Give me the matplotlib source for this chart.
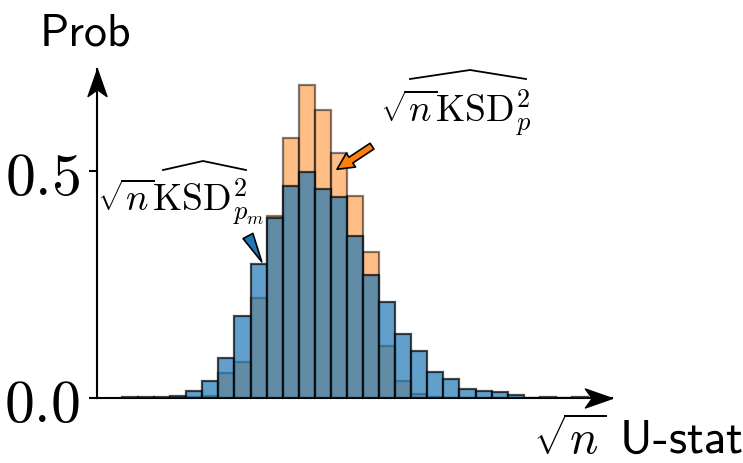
import numpy as np
import matplotlib
matplotlib.use("Agg")
from matplotlib import pyplot as plt
from matplotlib.lines import Line2D

plt.rcParams['mathtext.fontset'] = 'cm'

# histogram heights (density), bins of equal width
bin_width = 0.243
bin_left = np.arange(29) * bin_width
prob_p = [0, 0, 0, 0, 0.003, 0.004, 0.055, 0.079, 0.22, 0.402, 0.573, 0.689, 0.634, 0.540,
          0.446, 0.322, 0.114, 0.037, 0.0095, 0.002, 0, 0, 0, 0, 0, 0, 0, 0, 0]
prob_pm = [0.002, 0.002, 0.002, 0.004, 0.015, 0.038, 0.089, 0.18, 0.296, 0.396, 0.468, 0.499,
           0.461, 0.442, 0.356, 0.270, 0.211, 0.140, 0.1035, 0.057, 0.0426, 0.0206, 0.0154,
           0.013, 0.006, 0.001, 0.002, 0, 0.002]
y_ticks = [0, 0.5]
y_tick_labels = [r'$0.0$', r'$0.5$']

W, H = 743, 464
fig = plt.figure(figsize=(7.43, 4.64), dpi=100)
ax = fig.add_axes([97/W, 65/H, 515/W, 329/H])

ax.bar(bin_left, prob_p, width=bin_width, align='edge', color='#ff7f0e',
       edgecolor='k', linewidth=1.6, alpha=0.5, zorder=2)
ax.bar(bin_left, prob_pm, width=bin_width, align='edge', color='#1f77b4',
       edgecolor='k', linewidth=1.6, alpha=0.7, zorder=3)

ax.set_xlim(-0.378, 7.41)
ax.set_ylim(0, 0.725)
ax.set_xticks([])
ax.set_yticks(y_ticks)
ax.set_yticklabels(y_tick_labels, fontsize=43)
ax.tick_params(axis='y', length=6, width=1.5, pad=6)

for s in ['top', 'right']:
    ax.spines[s].set_visible(False)
for s in ['left', 'bottom']:
    ax.spines[s].set_linewidth(1.5)

# stealth arrow heads on the axes
right_head = [(0, 0), (-2, 0.7), (-1.5, 0), (-2, -0.7), (0, 0)]
up_head = [(0, 0), (-0.7, -2), (0, -1.5), (0.7, -2), (0, 0)]
ax.plot([1], [0], marker=right_head, markersize=39, color='k', transform=ax.transAxes, clip_on=False)
ax.plot([0], [1], marker=up_head, markersize=39, color='k', transform=ax.transAxes, clip_on=False)

# arrows pointing at bars
ax.annotate('', xy=(13.38*bin_width, 0.504), xytext=(15.56*bin_width, 0.555),
            arrowprops=dict(arrowstyle='simple,head_length=0.6,head_width=0.6,tail_width=0.25',
                            fc='#ff7f0e', ec='k', lw=1.2, mutation_scale=20, shrinkA=0, shrinkB=0),
            zorder=5)
ax.annotate('', xy=(8.7*bin_width, 0.300), xytext=(7.84*bin_width, 0.357),
            arrowprops=dict(arrowstyle='wedge,tail_width=0.4,shrink_factor=0.5',
                            fc='#1f77b4', ec='k', lw=1.2, mutation_scale=20, shrinkA=0, shrinkB=0),
            zorder=5)

fig.text(380/W, 1-122/H, r'$\sqrt{n}\mathrm{KSD}^2_p$', fontsize=27, va='baseline')
fig.text(97/W, 1-211/H, r'$\sqrt{n}\mathrm{KSD}^2_{p_m}$', fontsize=27, va='baseline')
# wide hats over KSD
fig.add_artist(Line2D([410/W, 470/W, 526/W], [1-80/H, 1-71/H, 1-80/H], color='k', lw=1.3))
fig.add_artist(Line2D([163/W, 203/W, 246/W], [1-171/H, 1-162/H, 1-171/H], color='k', lw=1.3))

fig.text(40/W, 1-45/H, 'Prob', fontfamily='cmss10', fontsize=33, va='baseline')
fig.text(533/W, 1-454/H, r'$\sqrt{n}$ U-stat', fontfamily='cmss10', fontsize=34, va='baseline')

fig.savefig('out.png', dpi=100)
